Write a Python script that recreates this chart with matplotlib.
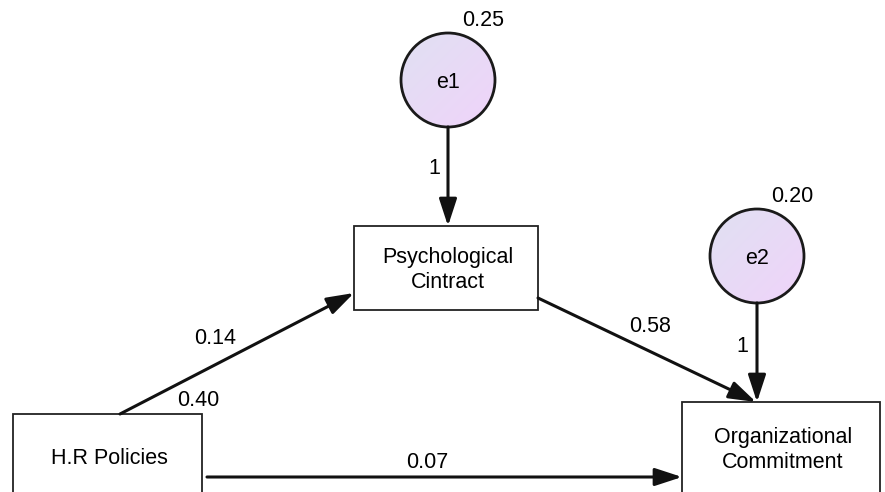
import matplotlib
matplotlib.use("Agg")
import matplotlib.pyplot as plt
import numpy as np
from matplotlib.patches import Rectangle, Circle, FancyArrowPatch

plt.rcParams['font.family'] = ['Liberation Sans', 'DejaVu Sans']

# Data: nodes and path coefficients
box_names = ["Psychological\nCintract", "H.R Policies", "Organizational\nCommitment"]
error_names = ["e1", "e2"]
error_variances = ["0.25", "0.20"]
error_loadings = ["1", "1"]
path_labels = ["0.14", "0.58", "0.07"]
exog_variance = "0.40"

# Layout (pixel coordinates, y down)
box_geom = [(354, 226, 184, 84), (13, 414, 189, 100), (682, 402, 198, 110)]
text_y = [270, 459, 450]
circ_geom = [(448, 80, 47), (757, 256, 47)]

fig = plt.figure(figsize=(8.85, 4.92), dpi=100)
ax = fig.add_axes([0, 0, 1, 1])
ax.set_xlim(0, 885)
ax.set_ylim(492, 0)
ax.axis('off')

fs = 15.5

# boxes
for (x, y, w, h), ty, name in zip(box_geom, text_y, box_names):
    ax.add_patch(Rectangle((x, y), w, h, facecolor='white', edgecolor='#222222', lw=1.3, zorder=2))
    ax.text(x + w / 2 + 2, ty, name, ha='center', va='center',
            fontsize=fs, linespacing=1.3, zorder=3)

# circles with gradient
grad = np.linspace(0, 1, 100)
gx, gy = np.meshgrid(grad, grad)
t = (gx + gy) / 2
c1 = np.array([0.88, 0.88, 0.95])
c2 = np.array([0.94, 0.83, 0.98])
img = c1[None, None, :] * (1 - t[..., None]) + c2[None, None, :] * t[..., None]
for (cx, cy, r), name, var in zip(circ_geom, error_names, error_variances):
    im = ax.imshow(img, extent=(cx - r, cx + r, cy + r, cy - r), zorder=2, interpolation='bilinear')
    clip = Circle((cx, cy), r, transform=ax.transData, facecolor='none', edgecolor='none')
    ax.add_patch(clip)
    im.set_clip_path(clip)
    ax.add_patch(Circle((cx, cy), r, facecolor='none', edgecolor='#1a1a1a', lw=2.0, zorder=3))
    ax.text(cx, cy + 3, name, ha='center', va='center', fontsize=fs, zorder=4)
    ax.text(cx + 35, cy - 59, var, ha='center', va='center', fontsize=fs, zorder=4)

ax.set_xlim(0, 885)
ax.set_ylim(492, 0)

def arrow(p0, p1):
    a = FancyArrowPatch(p0, p1, arrowstyle='-|>,head_length=1.1,head_width=0.36',
                        mutation_scale=15, lw=2.2, color='#111111', zorder=5,
                        shrinkA=0, shrinkB=0)
    ax.add_patch(a)

# error arrows
arrow((448, 127), (448, 226))
arrow((757, 303), (757, 402))
ax.text(434, 168, error_loadings[0], ha='center', va='center', fontsize=fs)
ax.text(742, 346, error_loadings[1], ha='center', va='center', fontsize=fs)

# structural paths
arrow((120, 414), (354, 293))
arrow((538, 298), (756, 402))
arrow((207, 477), (682, 477))
ax.text(215, 338, path_labels[0], ha='center', va='center', fontsize=fs)
ax.text(650, 326, path_labels[1], ha='center', va='center', fontsize=fs)
ax.text(427, 462, path_labels[2], ha='center', va='center', fontsize=fs)
ax.text(198, 401, exog_variance, ha='center', va='center', fontsize=fs)

fig.savefig('out.png', dpi=100)
